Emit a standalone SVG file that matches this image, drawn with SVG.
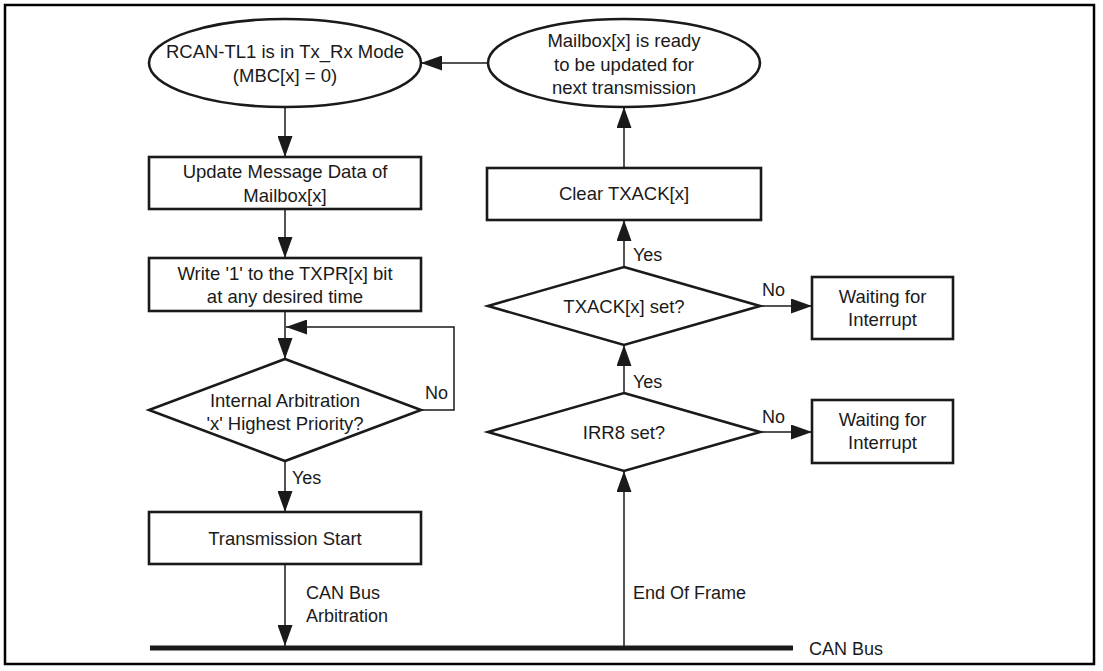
<svg xmlns="http://www.w3.org/2000/svg" width="1103" height="671" viewBox="0 0 1103 671">
<defs>
<marker id="ah" markerWidth="21" markerHeight="15" refX="21" refY="7.5" orient="auto" markerUnits="userSpaceOnUse">
<path d="M0,0 L21,7.5 L0,15 z" fill="#1a1a1a"/>
</marker>
<style>
.shape{fill:#fff;stroke:#1a1a1a;stroke-width:2.6}
.conn{fill:none;stroke:#1a1a1a;stroke-width:1.5;marker-end:url(#ah)}
.t{font-family:"Liberation Sans",Arial,Helvetica,sans-serif;font-size:18.5px;fill:#1a1a1a;text-anchor:middle}
.l{font-family:"Liberation Sans",Arial,Helvetica,sans-serif;font-size:18px;fill:#1a1a1a}
</style>
</defs>
<rect x="0" y="0" width="1103" height="671" fill="#fff"/>
<rect x="5" y="5" width="1089" height="659" fill="none" stroke="#000" stroke-width="2.5"/>

<g id="connectors">
<path class="conn" d="M488,63 L421,63"/>
<path class="conn" d="M285,107 L285,157"/>
<path class="conn" d="M285,209 L285,258"/>
<path class="conn" d="M285,311 L285,359"/>
<path class="conn" d="M421,410 L454,410 L454,327 L286,327"/>
<path class="conn" d="M285,461 L285,512"/>
<path class="conn" d="M285,564 L285,646"/>
<path class="conn" d="M624,646 L624,471"/>
<path class="conn" d="M624,393 L624,345"/>
<path class="conn" d="M624,267 L624,220"/>
<path class="conn" d="M624,168 L624,107"/>
<path class="conn" d="M760,306 L812,306"/>
<path class="conn" d="M760,432 L812,432"/>
<text class="l" x="425" y="399">No</text>
<text class="l" x="292" y="484">Yes</text>
<text class="l" x="306" y="599">CAN Bus</text>
<text class="l" x="306" y="622">Arbitration</text>
<text class="l" x="633" y="261">Yes</text>
<text class="l" x="633" y="388">Yes</text>
<text class="l" x="762" y="296">No</text>
<text class="l" x="762" y="423">No</text>
<text class="l" x="633" y="599">End Of Frame</text>
</g>

<g id="canbus">
<line x1="150" y1="648" x2="793" y2="648" stroke="#1a1a1a" stroke-width="5"/>
<text class="l" x="809" y="655">CAN Bus</text>
</g>

<g id="mode">
<ellipse class="shape" cx="285" cy="63" rx="136" ry="44"/>
<text class="t" x="285" y="58">RCAN-TL1 is in Tx_Rx Mode</text>
<text class="t" x="285" y="82">(MBC[x] = 0)</text>
</g>

<g id="ready">
<ellipse class="shape" cx="624" cy="63" rx="136" ry="44"/>
<text class="t" x="624" y="47">Mailbox[x] is ready</text>
<text class="t" x="624" y="71">to be updated for</text>
<text class="t" x="624" y="94">next transmission</text>
</g>

<g id="update">
<rect class="shape" x="149" y="157" width="272" height="52"/>
<text class="t" x="285" y="178">Update Message Data of</text>
<text class="t" x="285" y="202">Mailbox[x]</text>
</g>

<g id="write">
<rect class="shape" x="149" y="258" width="272" height="53"/>
<text class="t" x="285" y="280">Write '1' to the TXPR[x] bit</text>
<text class="t" x="285" y="303">at any desired time</text>
</g>

<g id="arbitration">
<polygon class="shape" points="285,359 421,410 285,461 149,410"/>
<text class="t" x="285" y="407">Internal Arbitration</text>
<text class="t" x="285" y="430">'x' Highest Priority?</text>
</g>

<g id="txstart">
<rect class="shape" x="149" y="512" width="272" height="52"/>
<text class="t" x="285" y="545">Transmission Start</text>
</g>

<g id="clear">
<rect class="shape" x="487" y="168" width="274" height="52"/>
<text class="t" x="624" y="200">Clear TXACK[x]</text>
</g>

<g id="txack">
<polygon class="shape" points="624,267 760,306 624,345 488,306"/>
<text class="t" x="624" y="313">TXACK[x] set?</text>
</g>

<g id="irr8">
<polygon class="shape" points="624,393 760,432 624,471 488,432"/>
<text class="t" x="624" y="439">IRR8 set?</text>
</g>

<g id="wait1">
<rect class="shape" x="812" y="277" width="141" height="62"/>
<text class="t" x="882.5" y="303">Waiting for</text>
<text class="t" x="882.5" y="326">Interrupt</text>
</g>

<g id="wait2">
<rect class="shape" x="812" y="400" width="141" height="63"/>
<text class="t" x="882.5" y="426">Waiting for</text>
<text class="t" x="882.5" y="449">Interrupt</text>
</g>
</svg>
